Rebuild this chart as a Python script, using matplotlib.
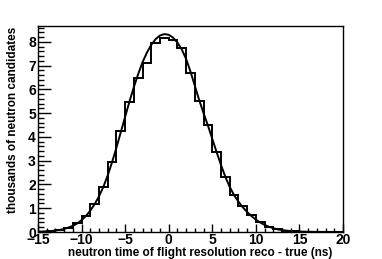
import matplotlib
matplotlib.use("Agg")
from matplotlib import pyplot as plt
from matplotlib.ticker import MultipleLocator
import numpy as np

plt.rcParams['font.family'] = ['Liberation Sans', 'DejaVu Sans']
plt.rcParams['font.weight'] = 'bold'

# histogram: bin edges every 1 ns from -15 to 20, counts in thousands
bin_edges = list(range(-15, 21))
counts = [0.02, 0.03, 0.07, 0.17, 0.36, 0.67, 1.17, 1.90, 2.94, 4.27,
          5.49, 6.50, 7.10, 7.94, 8.15, 8.10, 7.73, 6.70, 5.52, 4.50,
          3.35, 2.31, 1.55, 1.09, 0.71, 0.43, 0.22, 0.11, 0.06, 0.04,
          0.02, 0.01, 0.005, 0.003, 0.002]

# fitted curve
fit_x = [-15, -14.5, -14, -13.5, -13, -12.5, -12, -11.5, -11, -10.5,
         -10, -9.5, -9, -8.5, -8, -7.5, -7, -6.5, -6, -5.5,
         -5, -4.5, -4, -3.5, -3, -2.5, -2, -1.5, -1, -0.5,
         0, 0.5, 1, 1.5, 2, 2.5, 3, 3.5, 4, 4.5,
         5, 5.5, 6, 6.5, 7, 7.5, 8, 8.5, 9, 9.5,
         10, 10.5, 11, 11.5, 12, 12.5, 13, 13.5, 14, 14.5,
         15, 16, 17, 18, 19, 20]
fit_y = [0.02, 0.02, 0.03, 0.04, 0.06, 0.09, 0.13, 0.19, 0.26, 0.36,
         0.50, 0.67, 0.90, 1.17, 1.50, 1.90, 2.38, 2.94, 3.55, 4.20,
         4.85, 5.50, 6.10, 6.65, 7.15, 7.55, 7.88, 8.12, 8.27, 8.33,
         8.30, 8.18, 7.97, 7.68, 7.28, 6.75, 6.15, 5.55, 5.00, 4.48,
         3.92, 3.36, 2.82, 2.32, 1.90, 1.55, 1.28, 1.04, 0.84, 0.67,
         0.52, 0.40, 0.30, 0.22, 0.16, 0.11, 0.08, 0.06, 0.04, 0.03,
         0.02, 0.01, 0.005, 0.003, 0.002, 0.001]

fig = plt.figure(figsize=(3.82, 2.59), dpi=100)
ax = fig.add_axes([38 / 382, 1 - 232 / 259, 305 / 382, 206 / 259])

ax.stairs(counts, bin_edges, color='black', linewidth=1.4)
ax.plot(fit_x, fit_y, color='black', linewidth=1.4)

ax.set_xlim(-15, 20)
ax.set_ylim(0, 8.67)

ax.xaxis.set_major_locator(MultipleLocator(5))
ax.xaxis.set_minor_locator(MultipleLocator(1))
ax.yaxis.set_major_locator(MultipleLocator(1))
ax.yaxis.set_minor_locator(MultipleLocator(0.2))
ax.tick_params(which='both', direction='in', top=False, right=False,
               labelsize=10, width=1, pad=1.5)
ax.tick_params(axis='x', which='major', length=6, pad=1)
ax.tick_params(axis='x', which='minor', length=3)
ax.tick_params(axis='y', which='major', length=9)
ax.tick_params(axis='y', which='minor', length=4.5)
for lab in ax.get_xticklabels() + ax.get_yticklabels():
    lab.set_fontweight('bold')
for s in ax.spines.values():
    s.set_linewidth(1)

ax.set_xlabel('neutron time of flight resolution reco - true (ns)',
              fontsize=8.5, fontweight='bold')
ax.xaxis.set_label_coords(0.964, -0.074)
ax.xaxis.label.set_horizontalalignment('right')
ax.xaxis.label.set_verticalalignment('top')
ax.set_ylabel('thousands of neutron candidates',
              fontsize=8.5, fontweight='bold')
ax.yaxis.set_label_coords(-0.062, 0.995)
ax.yaxis.label.set_horizontalalignment('right')

plt.savefig('out.png')
